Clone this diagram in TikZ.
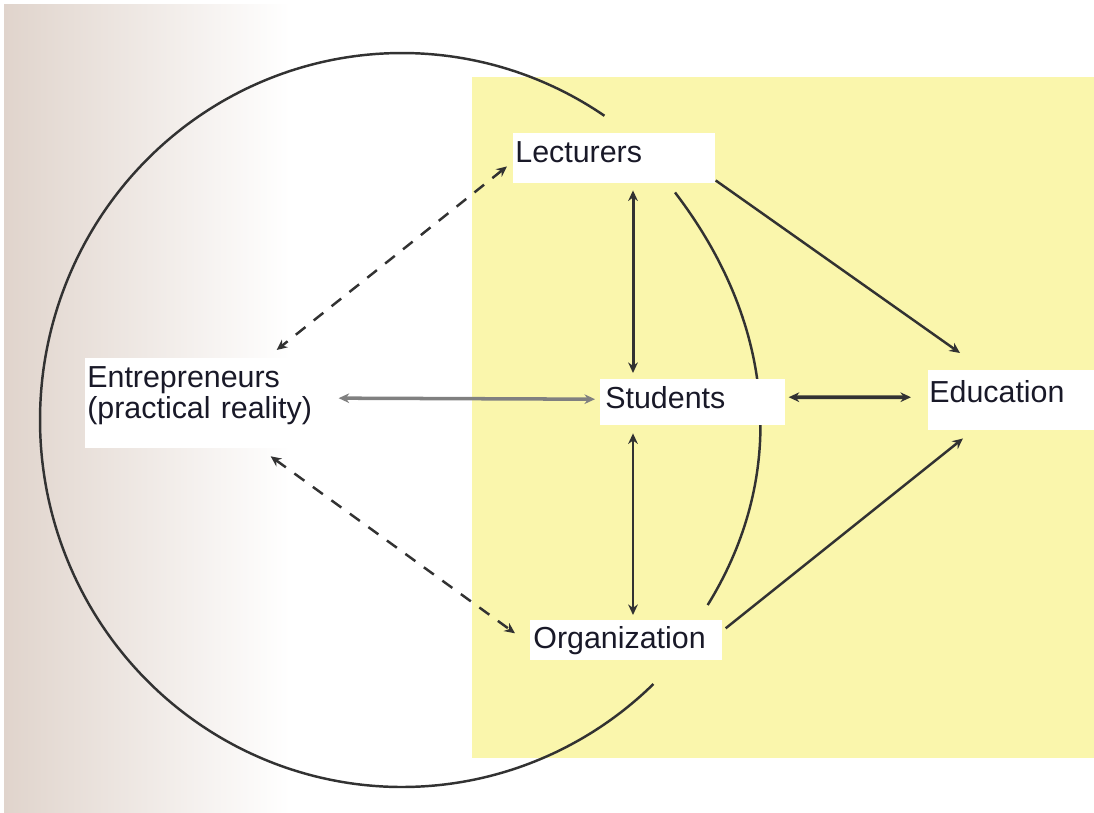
\documentclass[tikz,border=0pt]{standalone}
\usepackage{fontspec}
\setmainfont{Liberation Sans}
\usetikzlibrary{arrows.meta,calc}
\pgfdeclarelayer{bg}
\pgfsetlayers{bg,main}
\definecolor{yel}{RGB}{250,246,172}
\definecolor{beige}{RGB}{224,212,204}
\definecolor{ink}{RGB}{50,50,50}
\definecolor{txt}{RGB}{25,25,40}
\begin{document}
\begin{tikzpicture}[x=0.02cm,y=-0.02cm,
  box/.style={fill=white, inner ysep=0pt, font=\fontsize{17.3}{17.8}\selectfont, align=left, anchor=north west, text=txt},
  ln/.style={draw=ink, line width=1.4pt},
  tip/.style={-{Stealth[length=6pt,width=5.5pt]}},
  both/.style={{Stealth[length=6pt,width=5.5pt]}-{Stealth[length=6pt,width=5.5pt]}},
  dsh/.style={dash pattern=on 7pt off 6pt}]
\useasboundingbox (0,0) rectangle (1094,812);

\node[box, inner xsep=0.04cm, text width=3.96cm, text height=16.4pt, text depth=11.9pt] (lec) at (513,133) {Lecturers};
\node[box, inner xsep=0.04cm, text width=4.58cm, text height=16.4pt, text depth=34.6pt] (ent) at (85,358) {Entrepreneurs\\(practical reality)};
\node[box, inner xsep=0.1cm, text width=3.5cm, text height=16.4pt, text depth=9.6pt] (stu) at (600,379) {Students};
\node[box, inner xsep=0.02cm, text width=3.28cm, text height=18.1pt, text depth=15.9pt] (edu) at (928,370) {Education};
\node[box, inner xsep=0.06cm, text width=3.72cm, text height=15.9pt, text depth=6.8pt] (org) at (530,620) {Organization};

\draw[ln, dsh, both] ($(lec.south west)+(-6,-17)$) -- ($(ent.north east)+(-42,-8)$);
\draw[ln, dsh, both] ($(ent.south east)+(-48,8)$) -- ($(org.west)+(-15,-7)$);
\draw[ln, draw=gray, line width=2pt, both] ($(ent.east)+(20,-5)$) -- ($(stu.west)+(-5,-3)$);
\draw[ln, line width=2.2pt, both] ($(stu.east)+(3,-5)$) -- ($(edu.west)+(-17,-3)$);
\draw[ln, line width=1.7pt, both] ($(lec.south west)+(120,7)$) -- ($(stu.north west)+(33,-6)$);
\draw[ln, both] ($(stu.south west)+(33,8)$) -- ($(org.north west)+(103,-5)$);
\draw[ln, tip] ($(lec.south east)+(0,-3)$) -- ($(edu.north west)+(32,-17)$);
\draw[ln, tip] ($(org.east)+(3,-12)$) -- ($(edu.south west)+(35,8)$);

\begin{pgfonlayer}{bg}
\fill[white] (0,0) rectangle (1094,812);
\shade[left color=beige, right color=white] (4,4) rectangle (290,812);
\fill[yel] (472,77) rectangle (1094,758);
\draw[ln] plot[domain=56:314, samples=150, smooth] ({402+362*cos(\x)},{420-367*sin(\x)});
\draw[ln] ($(lec.south west)+(162,9)$) .. controls (780,330) and (785,480) .. ($(org.north east)+(-15,-15)$);
\end{pgfonlayer}
\end{tikzpicture}
\end{document}
